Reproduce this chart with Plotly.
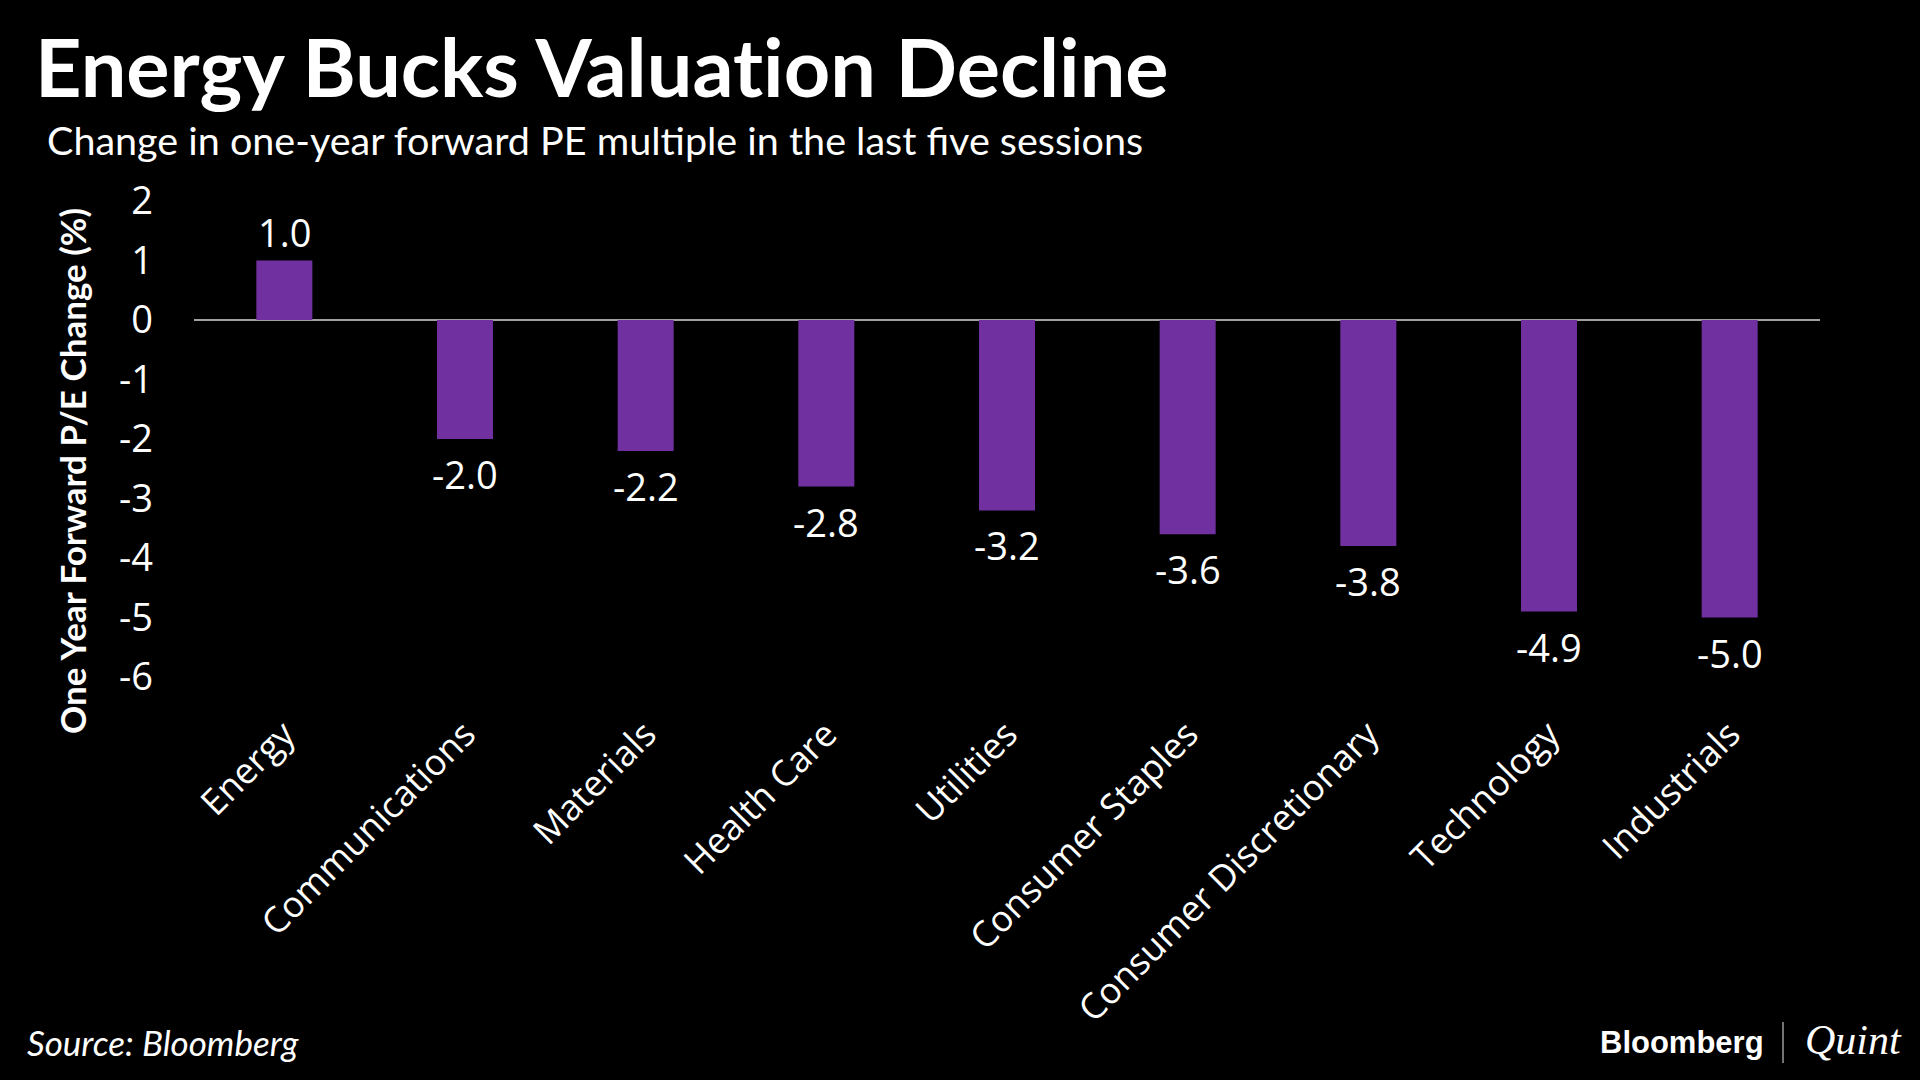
import plotly.graph_objects as go

# ---------------- data ----------------
categories = ["Energy", "Communications", "Materials", "Health Care", "Utilities",
              "Consumer Staples", "Consumer Discretionary", "Technology", "Industrials"]
values = [1.0, -2.0, -2.2, -2.8, -3.2, -3.6, -3.8, -4.9, -5.0]
y_tick_vals = [2, 1, 0, -1, -2, -3, -4, -5, -6]
y_tick_text = ["2", "1", "0", "-1", "-2", "-3", "-4", "-5", "-6"]
bar_labels = [f"{v:.1f}" for v in values]

# zero-width non-joiner keeps Lato from drawing a "ti" ligature
title_text = "Energy Bucks Valuat\u200cion Decline"
subtitle_text = "Change in one-year forward PE multiple in the last five sessions"
y_title_text = "One Year Forward P/E Change (%)"
source_text = "Source: Bloomberg"

# ---------------- layout geometry ----------------
W, H = 1920, 1080
L, R, T, B = 194, 1820, 201, 677


def px(x):
    return (x - L) / (R - L)


def py(y):
    return (B - y) / (B - T)


fig = go.Figure(
    go.Bar(
        x=categories,
        y=values,
        width=0.31,
        marker=dict(color="#7030A0", line_width=0),
        hoverinfo="skip",
    )
)

fig.update_layout(
    width=W,
    height=H,
    margin=dict(l=L, r=W - R, t=T, b=H - B, autoexpand=False),
    paper_bgcolor="black",
    plot_bgcolor="black",
    showlegend=False,
    xaxis=dict(
        range=[-0.5, len(categories) - 0.5],
        tickangle=-45,
        tickfont=dict(family="Open Sans", size=36, color="white"),
        showgrid=False,
        showline=False,
        zeroline=False,
        ticks="",
        ticklabelstandoff=28,
    ),
    yaxis=dict(
        range=[-6, 2],
        tickvals=y_tick_vals,
        ticktext=y_tick_text,
        tickfont=dict(family="Open Sans", size=38, color="white"),
        showgrid=False,
        showline=False,
        ticks="",
        zeroline=True,
        zerolinecolor="#a0a0a0",
        zerolinewidth=2,
        ticklabelstandoff=40,
    ),
)

# value labels, placed at each bar's end through the data axes
value_annotations = [
    dict(x=c, y=v, xref="x", yref="y", text=t, showarrow=False,
         xanchor="center", yanchor="middle", yshift=29 if v >= 0 else -35,
         font=dict(family="Open Sans", size=38, color="white"))
    for c, v, t in zip(categories, values, bar_labels)
]

annotations = [
    dict(text=f"<b>{title_text}</b>", x=px(33), y=py(66), xanchor="left", yanchor="middle",
         font=dict(family="Lato", size=81, color="white")),
    dict(text=subtitle_text, x=px(45), y=py(139), xanchor="left", yanchor="middle",
         font=dict(family="Lato", size=39.5, color="white")),
    dict(text=f"<b>{y_title_text}</b>", x=px(72), y=py(471), xanchor="center", yanchor="middle",
         textangle=-90, font=dict(family="Lato", size=35, color="white")),
    dict(text=f"<i>{source_text}</i>", x=px(25), y=py(1042), xanchor="left", yanchor="middle",
         font=dict(family="Lato", size=35, color="white")),
    dict(text="<b>Bloomberg</b>", x=px(1598), y=py(1042), xanchor="left", yanchor="middle",
         font=dict(family="Liberation Sans", size=31, color="white")),
    dict(text="<i>Quint</i>", x=px(1803), y=py(1040), xanchor="left", yanchor="middle",
         font=dict(family="Liberation Serif", size=42, color="white")),
]
for a in annotations:
    a.update(xref="paper", yref="paper", showarrow=False)
fig.update_layout(annotations=value_annotations + annotations)

fig.add_shape(type="line", xref="paper", yref="paper",
              x0=px(1783), x1=px(1783), y0=py(1022), y1=py(1063),
              line=dict(color="#9a9a9a", width=1.5))

page_js = (
    "document.body.style.margin='0';"
    "document.body.style.background='black';"
)
fig.write_html("out.html", post_script=page_js, config={"displayModeBar": False})
